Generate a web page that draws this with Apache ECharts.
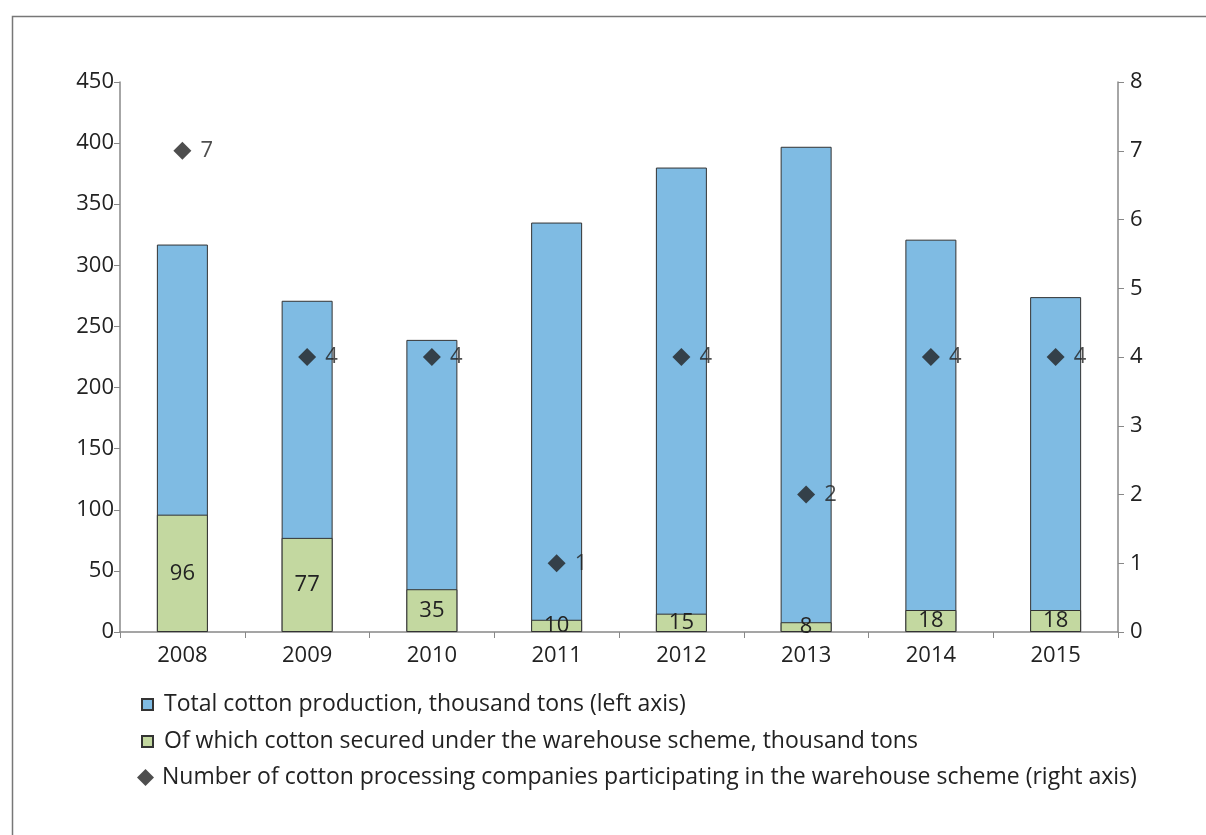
<!DOCTYPE html>
<html>
<head>
<meta charset="utf-8">
<script src="https://cdn.jsdelivr.net/npm/echarts@6/dist/echarts.min.js"></script>
<style>html,body{margin:0;padding:0;background:#fff;}#c{width:1206px;height:835px;}</style>
</head>
<body>
<div id="c"></div>
<script>
const categories = ['2008','2009','2010','2011','2012','2013','2014','2015'];
const totalProduction = [317, 271, 239, 335, 380, 397, 321, 274];
const warehouseSecured = [96, 77, 35, 10, 15, 8, 18, 18];
const companies = [7, 4, 4, 1, 4, 2, 4, 4];
const seriesNames = [
  'Total cotton production, thousand tons (left axis)',
  'Of which cotton secured under the warehouse scheme, thousand tons',
  'Number of cotton processing companies participating in the warehouse scheme (right axis)'
];

const FONT = 'Open Sans';
const chart = echarts.init(document.getElementById('c'));
chart.setOption({
  animation: false,
  backgroundColor: '#fff',
  textStyle: { fontFamily: FONT },
  graphic: [{
    type: 'rect', left: 10, top: 14,
    shape: { width: 1210, height: 840 },
    style: { fill: 'none', stroke: '#777', lineWidth: 1.5 }
  }],
  grid: { left: 120, right: 88, top: 82, bottom: 203 },
  legend: [{
    orient: 'vertical', left: 136, top: 688,
    itemWidth: 11, itemHeight: 11, itemGap: 14,
    textStyle: { fontFamily: FONT, fontSize: 23, color: '#222', padding: [0, 0, 0, 6] },
    data: [
      { name: seriesNames[0], icon: 'rect' },
      { name: seriesNames[1], icon: 'rect' }
    ]
  }, {
    orient: 'vertical', left: 132, top: 761,
    itemWidth: 17, itemHeight: 17, itemGap: 4,
    textStyle: { fontFamily: FONT, fontSize: 23, color: '#222', padding: [0, 0, 0, 3] },
    data: [{ name: seriesNames[2], icon: 'diamond' }]
  }],
  xAxis: {
    type: 'category', data: categories,
    axisLine: { lineStyle: { color: '#888', width: 1.5 } },
    axisTick: { show: true, length: 6, lineStyle: { color: '#888' } },
    axisLabel: { fontFamily: FONT, fontSize: 22, color: '#222', margin: 13 }
  },
  yAxis: [{
    type: 'value', min: 0, max: 450, interval: 50,
    axisLine: { show: true, lineStyle: { color: '#888', width: 1.5 } },
    axisTick: { show: true, length: 6, lineStyle: { color: '#888' } },
    splitLine: { show: false },
    axisLabel: { fontFamily: FONT, fontSize: 22, color: '#222', margin: 6 }
  }, {
    type: 'value', min: 0, max: 8, interval: 1, position: 'right',
    axisLine: { show: true, lineStyle: { color: '#888', width: 1.5 } },
    axisTick: { show: true, length: 6, lineStyle: { color: '#888' } },
    splitLine: { show: false },
    axisLabel: { fontFamily: FONT, fontSize: 22, color: '#222', margin: 12 }
  }],
  series: [{
    name: seriesNames[0], type: 'bar', data: totalProduction,
    barWidth: 51, barGap: '-100%',
    itemStyle: { color: '#7fbbe3', borderColor: '#333', borderWidth: 1 }
  }, {
    name: seriesNames[1], type: 'bar', data: warehouseSecured,
    barWidth: 51, barGap: '-100%',
    itemStyle: { color: '#c3d8a0', borderColor: '#333', borderWidth: 1 },
    label: { show: true, position: 'inside', fontFamily: FONT, fontSize: 22, color: '#222' }
  }, {
    name: seriesNames[2], type: 'scatter', yAxisIndex: 1, data: companies,
    symbol: 'diamond', symbolSize: 18,
    itemStyle: { color: '#222' },
    label: { show: true, position: 'right', distance: 9, fontFamily: FONT, fontSize: 22, color: '#222' }
  }]
});
</script>
</body>
</html>
